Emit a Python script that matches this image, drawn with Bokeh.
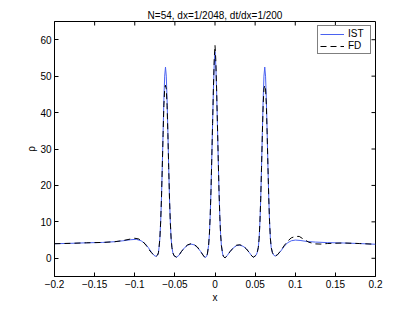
import math
from bokeh.plotting import figure
from bokeh.models import FixedTicker, Legend, LegendItem, Range1d
from bokeh.embed import file_html
from bokeh.resources import INLINE

# ---- data ----
ist_x = [-0.200, -0.180, -0.160, -0.140, -0.125, -0.115, -0.105, -0.098, -0.092, -0.087,
         -0.083, -0.079, -0.076, -0.0735, -0.0715, -0.0705,
         -0.0697, -0.0687, -0.0677, -0.0667, -0.0657, -0.0647, -0.0637, -0.0627, -0.0617,
         -0.0607, -0.0597, -0.0587, -0.0577, -0.0567, -0.0557, -0.0547, -0.0537,
         -0.0525, -0.051, -0.048, -0.045, -0.042, -0.038, -0.034, -0.030, -0.026, -0.022,
         -0.018, -0.015, -0.0125, -0.0105, -0.0095,
         -0.008, -0.007, -0.006, -0.005, -0.004, -0.003, -0.002, -0.001, 0.0,
         0.001, 0.002, 0.003, 0.004, 0.005, 0.006, 0.007, 0.008,
         0.0095, 0.0105, 0.0125, 0.015, 0.019, 0.023, 0.027, 0.031, 0.035, 0.039, 0.043,
         0.046, 0.048, 0.051, 0.0525,
         0.054, 0.055, 0.056, 0.057, 0.058, 0.059, 0.060, 0.061, 0.062,
         0.063, 0.064, 0.065, 0.066, 0.067, 0.068, 0.069, 0.070,
         0.0715, 0.073, 0.075, 0.078, 0.082, 0.086, 0.090, 0.095, 0.100, 0.106, 0.115,
         0.125, 0.140, 0.160, 0.180, 0.200]
ist_y = [4.0, 4.1, 4.25, 4.35, 4.55, 4.8, 5.1, 5.2, 4.8, 4.0,
         2.9, 1.6, 0.8, 0.5, 0.9, 1.5,
         3.0, 5.5, 10.0, 16.5, 25.0, 34.5, 43.5, 50.0, 52.5,
         50.0, 43.5, 34.5, 25.0, 16.5, 10.0, 5.5, 3.0,
         1.5, 0.7, 0.3, 0.8, 1.8, 2.9, 3.6, 3.9, 3.7, 3.0,
         1.9, 0.9, 0.2, 0.5, 1.2,
         3.5, 6.5, 11.5, 18.5, 27.5, 37.0, 46.0, 53.0, 56.7,
         53.0, 46.0, 37.0, 27.5, 18.5, 11.5, 6.5, 3.5,
         1.2, 0.5, 0.1, 0.7, 1.9, 2.9, 3.5, 3.6, 3.3, 2.6, 1.5,
         0.6, 0.3, 0.8, 1.5,
         3.0, 5.5, 10.0, 16.5, 25.0, 34.5, 43.5, 50.0, 52.5,
         50.0, 43.5, 34.5, 25.0, 16.5, 10.0, 5.5, 3.0,
         1.6, 0.9, 0.6, 1.0, 2.0, 3.2, 4.2, 4.8, 5.0, 4.9, 4.6,
         4.45, 4.3, 4.2, 4.05, 3.85]

fd_x = [-0.200, -0.180, -0.160, -0.140, -0.125, -0.115, -0.105, -0.100, -0.095, -0.090, -0.086,
        -0.082, -0.079, -0.076, -0.0735, -0.0715, -0.0705,
        -0.0697, -0.0687, -0.0677, -0.0667, -0.0657, -0.0647, -0.0637, -0.0627, -0.0617,
        -0.0607, -0.0597, -0.0587, -0.0577, -0.0567, -0.0557, -0.0547, -0.0537,
        -0.0525, -0.051, -0.048, -0.045, -0.042, -0.038, -0.034, -0.030, -0.026, -0.022,
        -0.018, -0.015, -0.0125, -0.0105, -0.0095,
        -0.008, -0.007, -0.006, -0.005, -0.004, -0.003, -0.002, -0.001, 0.0,
        0.001, 0.002, 0.003, 0.004, 0.005, 0.006, 0.007, 0.008,
        0.0095, 0.0105, 0.0125, 0.015, 0.019, 0.023, 0.027, 0.031, 0.035, 0.039, 0.043,
        0.046, 0.048, 0.051, 0.0525,
        0.054, 0.055, 0.056, 0.057, 0.058, 0.059, 0.060, 0.061, 0.062,
        0.063, 0.064, 0.065, 0.066, 0.067, 0.068, 0.069, 0.070,
        0.0715, 0.073, 0.075, 0.078, 0.082, 0.086, 0.090, 0.095, 0.100, 0.105, 0.110,
        0.117, 0.125, 0.132, 0.140, 0.160, 0.180, 0.200]
fd_y = [4.0, 4.1, 4.25, 4.35, 4.55, 4.85, 5.3, 5.5, 5.3, 4.6, 3.6,
        2.3, 1.5, 0.8, 0.5, 0.9, 1.5,
        3.0, 5.5, 10.0, 16.5, 25.0, 34.0, 42.0, 46.5, 47.5,
        46.5, 42.0, 34.0, 25.0, 16.5, 10.0, 5.5, 3.0,
        1.5, 0.7, 0.3, 0.8, 1.8, 2.9, 3.7, 4.0, 3.8, 3.1,
        1.9, 0.9, 0.2, 0.5, 1.2,
        3.5, 6.5, 11.5, 18.5, 27.5, 37.0, 46.5, 54.5, 58.5,
        54.5, 46.5, 37.0, 27.5, 18.5, 11.5, 6.5, 3.5,
        1.2, 0.5, 0.1, 0.7, 1.9, 2.9, 3.6, 3.7, 3.4, 2.6, 1.5,
        0.6, 0.3, 0.8, 1.5,
        3.0, 5.5, 10.0, 16.5, 25.0, 34.0, 42.0, 46.5, 47.5,
        46.5, 42.0, 34.0, 25.0, 16.5, 10.0, 5.5, 3.0,
        1.6, 0.9, 0.6, 1.0, 2.1, 3.4, 4.6, 5.6, 6.0, 6.0, 5.3,
        4.4, 3.95, 3.9, 4.05, 4.2, 4.05, 3.85]

x_ticks = [-0.2, -0.15, -0.1, -0.05, 0, 0.05, 0.1, 0.15, 0.2]
x_tick_labels = ["\u22120.2", "\u22120.15", "\u22120.1", "\u22120.05", "0", "0.05", "0.1", "0.15", "0.2"]
y_ticks = [0, 10, 20, 30, 40, 50, 60]
x_lim = (-0.2, 0.2)
y_lim = (-5, 65)

FONT = "Liberation Sans"

p = figure(frame_width=321, frame_height=255, output_backend="svg", toolbar_location=None,
           x_range=Range1d(*x_lim), y_range=Range1d(*y_lim),
           min_border_left=54, min_border_right=30, min_border_top=21, min_border_bottom=0,
           background_fill_color="white", border_fill_color="white")
p.xgrid.visible = False
p.ygrid.visible = False
p.outline_line_color = "black"
p.outline_line_width = 1

p.title.text = "N=54, dx=1/2048, dt/dx=1/200"
p.title.align = "center"
p.title.text_font = FONT
p.title.text_font_size = "10px"
p.title.text_font_style = "normal"
p.title.text_color = "black"
p.title.standoff = 2

ist = p.line(ist_x, ist_y, line_color="#4a62f0", line_width=1)
fd = p.line(fd_x, fd_y, line_color="black", line_width=1, line_dash="6 4")

# inward ticks on the top and right edges of the box
p.ray(x=x_ticks, y=[y_lim[1]] * len(x_ticks), length=4, length_units="screen",
      angle=-math.pi / 2, line_color="black", line_width=1)
p.ray(x=[x_lim[1]] * len(y_ticks), y=y_ticks, length=4, length_units="screen",
      angle=math.pi, line_color="black", line_width=1)

def style(ax):
    ax.major_tick_in = 4
    ax.major_tick_out = 0
    ax.minor_tick_in = 0
    ax.minor_tick_out = 0
    ax.axis_line_color = "black"
    ax.major_tick_line_color = "black"
    ax.major_label_text_font = FONT
    ax.major_label_text_font_size = "10px"
    ax.major_label_text_color = "black"
    ax.axis_label_text_font = FONT
    ax.axis_label_text_font_size = "10px"
    ax.axis_label_text_font_style = "normal"
    ax.axis_label_text_color = "black"

xa = p.xaxis[0]
xa.ticker = FixedTicker(ticks=x_ticks)
xa.major_label_overrides = {t: l for t, l in zip(x_ticks, x_tick_labels)}
xa.axis_label = "x"
xa.axis_label_standoff = 1
xa.major_label_standoff = 3
style(xa)

ya = p.yaxis[0]
ya.ticker = FixedTicker(ticks=y_ticks)
ya.axis_label = "\u03c1"
ya.axis_label_standoff = 0
ya.major_label_standoff = 3
style(ya)

legend = Legend(items=[LegendItem(label="IST", renderers=[ist]),
                       LegendItem(label="FD", renderers=[fd])],
                location="top_right")
legend.label_text_font = FONT
legend.label_text_font_size = "10px"
legend.label_text_color = "black"
legend.border_line_color = "black"
legend.border_line_width = 1
legend.glyph_width = 24
legend.glyph_height = 10
legend.label_height = 10
legend.spacing = 1
legend.padding = 2
legend.margin = 4
legend.label_standoff = 4
legend.background_fill_alpha = 1
p.add_layout(legend, "center")

open("out.html", "w").write(file_html(p, INLINE))
